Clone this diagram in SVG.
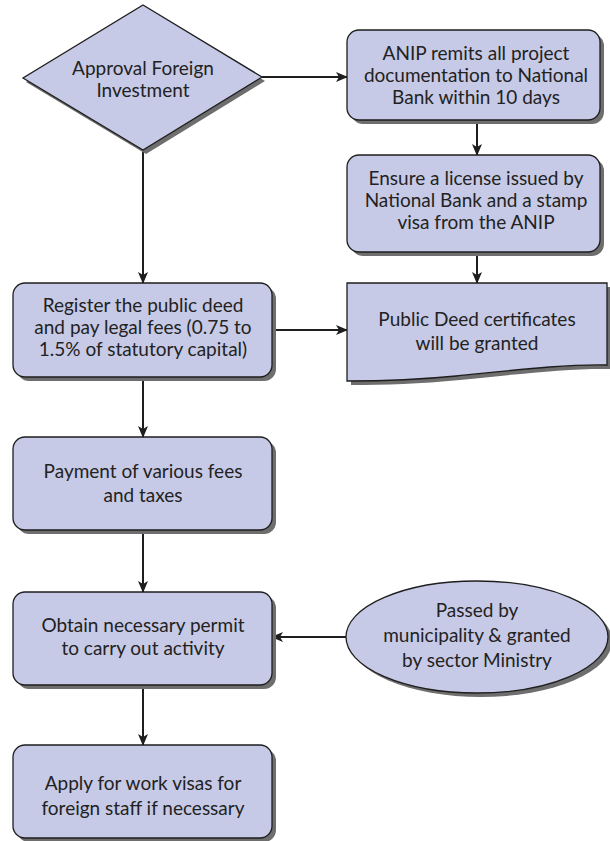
<svg xmlns="http://www.w3.org/2000/svg" width="610" height="841" viewBox="0 0 610 841">
  <style>
    .node { fill: #c7cae6; stroke: #1e1e1e; stroke-width: 1.3; }
    .shadow { fill: #6e6e6e; }
    .label { font-family: Lato, "Open Sans", "Liberation Sans", sans-serif; font-size: 19px; fill: #222; text-anchor: middle; }
    .edge { fill: none; stroke: #1e1e1e; stroke-width: 2; marker-end: url(#arrow); }
  </style>
  <defs>
    <marker id="arrow" viewBox="0 0 12 10" refX="11" refY="5" markerWidth="12" markerHeight="10" markerUnits="userSpaceOnUse" orient="auto">
      <path d="M0,0 L12,5 L0,10 L3,5 Z" fill="#1e1e1e"/>
    </marker>
  </defs>
  <rect width="610" height="841" fill="#ffffff"/>

  <!-- connectors -->
  <g id="connectors">
    <line class="edge" x1="262" y1="77" x2="347" y2="77"/>
    <line class="edge" x1="477" y1="120" x2="477" y2="155"/>
    <line class="edge" x1="477" y1="252" x2="477" y2="283"/>
    <line class="edge" x1="143" y1="150" x2="143" y2="283"/>
    <line class="edge" x1="272" y1="330" x2="347" y2="330"/>
    <line class="edge" x1="143" y1="377" x2="143" y2="437"/>
    <line class="edge" x1="143" y1="530" x2="143" y2="592"/>
    <line class="edge" x1="346" y1="637" x2="272" y2="637"/>
    <line class="edge" x1="143" y1="685" x2="143" y2="745"/>
  </g>

  <!-- decision -->
  <g id="approval">
    <polygon class="shadow" points="146,9 265,81 146,154 26,82"/>
    <polygon class="node" points="143,5 262,77 143,150 23,78"/>
    <text class="label" x="143" y="75">Approval Foreign</text>
    <text class="label" x="143" y="97">Investment</text>
  </g>

  <g id="anip-remits">
    <rect class="shadow" x="351" y="34" width="253" height="90" rx="12"/>
    <rect class="node" x="347" y="30" width="253" height="90" rx="12"/>
    <text class="label" x="476" y="60">ANIP remits all project</text>
    <text class="label" x="476" y="82">documentation to National</text>
    <text class="label" x="476" y="104">Bank within 10 days</text>
  </g>

  <g id="ensure-license">
    <rect class="shadow" x="351" y="159" width="253" height="97" rx="12"/>
    <rect class="node" x="347" y="155" width="253" height="97" rx="12"/>
    <text class="label" x="476" y="185">Ensure a license issued by</text>
    <text class="label" x="476" y="207">National Bank and a stamp</text>
    <text class="label" x="476" y="229">visa from the ANIP</text>
  </g>

  <g id="public-deed">
    <path class="shadow" d="M351,287 H611 V369 C570,368 520,374 460,380 C420,384 385,385 351,385 Z"/>
    <path class="node" d="M347,283 H607 V365 C566,364 516,370 456,376 C416,380 381,381 347,381 Z"/>
    <text class="label" x="477" y="326">Public Deed certificates</text>
    <text class="label" x="477" y="350">will be granted</text>
  </g>

  <g id="register-deed">
    <rect class="shadow" x="17" y="287" width="259" height="94" rx="12"/>
    <rect class="node" x="13" y="283" width="259" height="94" rx="12"/>
    <text class="label" x="143" y="312">Register the public deed</text>
    <text class="label" x="143" y="334">and pay legal fees (0.75 to</text>
    <text class="label" x="143" y="356">1.5% of statutory capital)</text>
  </g>

  <g id="payment-fees">
    <rect class="shadow" x="17" y="441" width="259" height="93" rx="12"/>
    <rect class="node" x="13" y="437" width="259" height="93" rx="12"/>
    <text class="label" x="143" y="478">Payment of various fees</text>
    <text class="label" x="143" y="502">and taxes</text>
  </g>

  <g id="obtain-permit">
    <rect class="shadow" x="17" y="596" width="259" height="93" rx="12"/>
    <rect class="node" x="13" y="592" width="259" height="93" rx="12"/>
    <text class="label" x="143" y="632">Obtain necessary permit</text>
    <text class="label" x="143" y="655">to carry out activity</text>
  </g>

  <g id="municipality">
    <ellipse class="shadow" cx="481" cy="641" rx="131" ry="56"/>
    <ellipse class="node" cx="477" cy="637" rx="131" ry="56"/>
    <text class="label" x="477" y="617">Passed by</text>
    <text class="label" x="477" y="642">municipality &amp; granted</text>
    <text class="label" x="477" y="667">by sector Ministry</text>
  </g>

  <g id="work-visas">
    <rect class="shadow" x="17" y="749" width="259" height="93" rx="12"/>
    <rect class="node" x="13" y="745" width="259" height="93" rx="12"/>
    <text class="label" x="143" y="790">Apply for work visas for</text>
    <text class="label" x="143" y="815">foreign staff if necessary</text>
  </g>
</svg>
